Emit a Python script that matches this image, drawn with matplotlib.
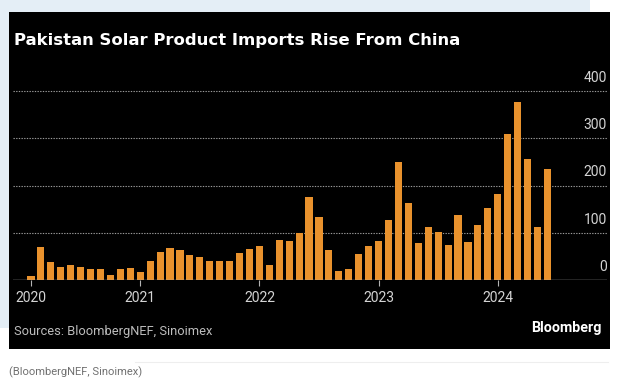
import matplotlib
matplotlib.use("Agg")
import matplotlib.pyplot as plt
from matplotlib.patches import Rectangle
from matplotlib.lines import Line2D
import numpy as np

# monthly solar product imports from China, Feb 2020 - Jun 2024
imports = [9, 69, 38, 28, 31, 28, 23, 23, 11, 24, 25,
           17, 41, 60, 68, 63, 53, 48, 41, 41, 41, 57, 65,
           72, 32, 85, 83, 100, 176, 134, 64, 19, 23, 55, 72,
           83, 126, 249, 163, 79, 113, 102, 75, 138, 80, 117, 153,
           183, 308, 377, 256, 112, 234]
first_month = 1  # Feb 2020, counting Jan 2020 as 0
years = ["2020", "2021", "2022", "2023", "2024"]
y_ticks = [0, 100, 200, 300, 400]

colors = {
    "bar": "#e9922d",
    "panel": "#000000",
    "backdrop": "#e4eef6",
    "grid": "#9a9a9a",
    "axis": "#b4b4b4",
    "label": "#d4d4d4",
    "source": "#bdbdbd",
    "caption": "#707070",
}

W, H = 624, 385


def fx(px):
    return px / W


def fy(py):
    return 1 - py / H


fig = plt.figure(figsize=(W / 100, H / 100), dpi=100)
fig.patch.set_facecolor("white")

# screenshot backdrop and black chart panel
fig.add_artist(Rectangle((0, fy(328)), fx(590), 1 - fy(328), transform=fig.transFigure,
                         facecolor=colors["backdrop"], edgecolor="none", zorder=-20))
fig.add_artist(Rectangle((fx(9), fy(349)), fx(610) - fx(9), fy(12) - fy(349),
                         transform=fig.transFigure, facecolor=colors["panel"],
                         edgecolor="none", zorder=-10))

ax = fig.add_axes([fx(13), fy(280), fx(607) - fx(13), fy(91) - fy(280)])
ax.set_facecolor("none")

pos = np.arange(len(imports)) + first_month
ax.bar(pos, imports, width=0.72, color=colors["bar"], zorder=3)

ax.set_xlim(-0.81, 59.0)
ax.set_ylim(0, 400)

for v in y_ticks[1:]:
    ax.axhline(v, color=colors["grid"], lw=0.8, ls=(0, (1.2, 1.2)), zorder=1, clip_on=False)
ax.axhline(0, color=colors["axis"], lw=1.0, zorder=4)

for v in y_ticks:
    ax.annotate(str(v), xy=(1, v), xycoords=ax.get_yaxis_transform(),
                xytext=(0, 9.5), textcoords="offset points", ha="right", va="center",
                color=colors["label"], fontsize=10, family="Roboto")

year_pos = [pos[0]] + [12 * k for k in range(1, len(years))]
ax.set_xticks(year_pos, years)
ax.tick_params(axis="x", length=4, width=0.8, color=colors["axis"],
               labelcolor=colors["label"], labelsize=10, pad=4)
for lab in ax.get_xticklabels():
    lab.set_family("Roboto")
ax.tick_params(axis="y", left=False, labelleft=False)
for s in ax.spines.values():
    s.set_visible(False)

fig.text(fx(14), fy(40), "Pakistan Solar Product Imports Rise From China",
         color="white", fontsize=11.85, fontweight="bold", family="DejaVu Sans",
         ha="left", va="center")
fig.text(fx(14), fy(331), "Sources: BloombergNEF, Sinoimex", color=colors["source"],
         fontsize=9.3, family="Roboto", ha="left", va="center")
fig.text(fx(602), fy(328), "Bloomberg", color="white", fontsize=10.3,
         fontweight="bold", family="Roboto", ha="right", va="center")
fig.text(fx(9), fy(372), "(BloombergNEF, Sinoimex)", color=colors["caption"],
         fontsize=8, family="Roboto", ha="left", va="center")
fig.add_artist(Line2D([fx(135), fx(608)], [fy(362), fy(362)], transform=fig.transFigure,
                      color="#eeeeee", lw=0.8))

fig.savefig("out.png", dpi=100, facecolor="white")
